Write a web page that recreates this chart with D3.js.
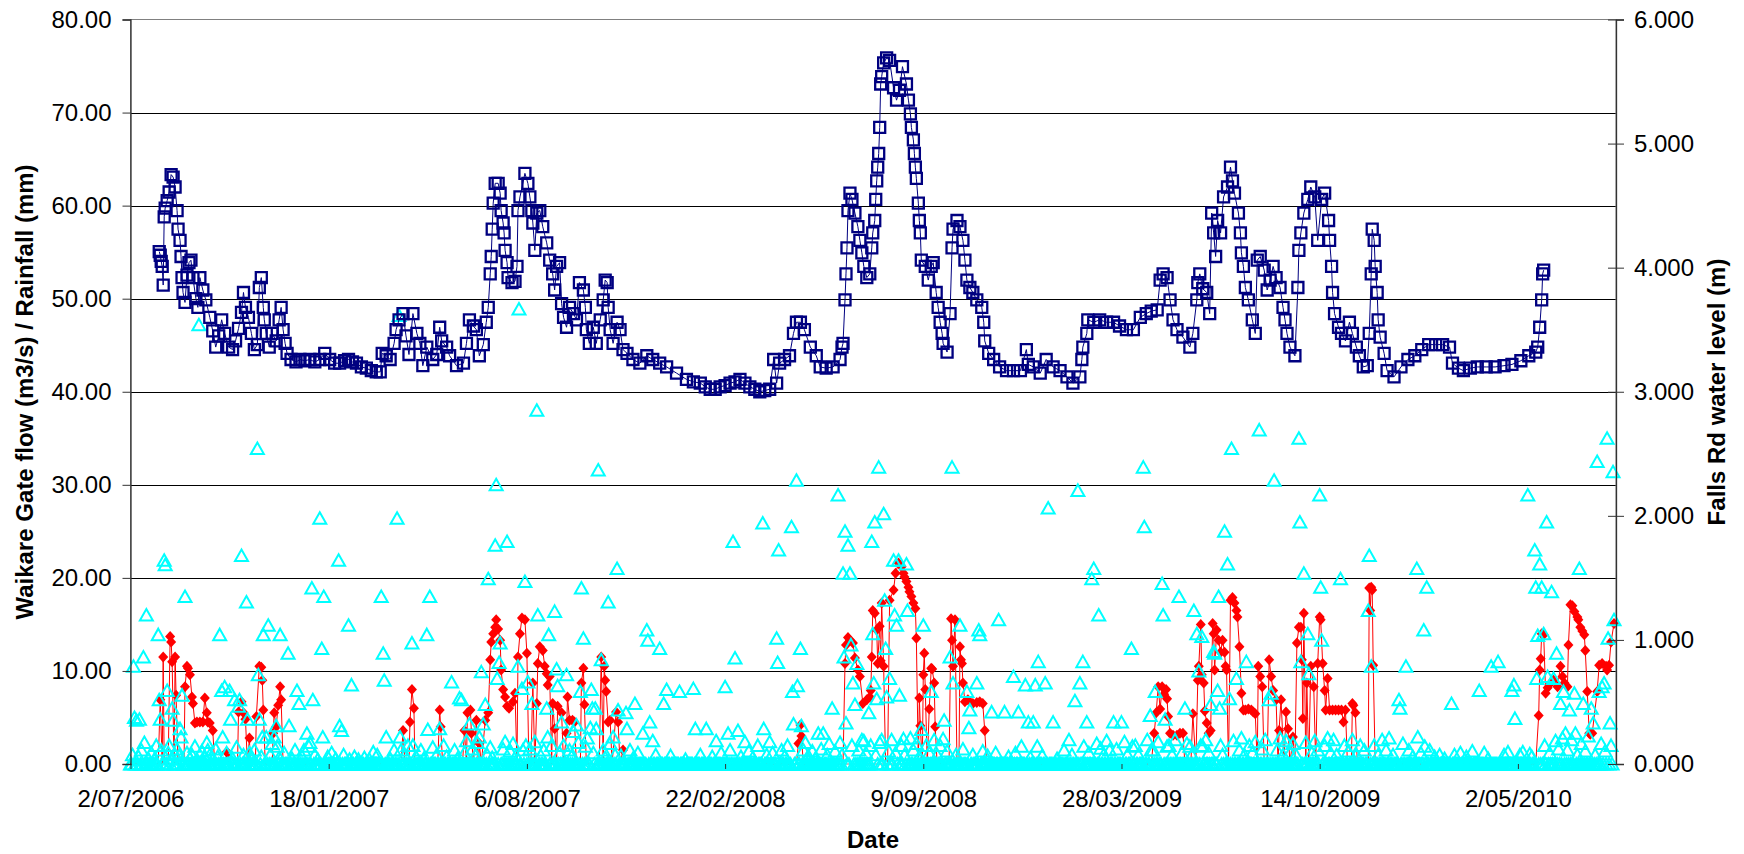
<!DOCTYPE html>
<html lang="en">
<head>
<meta charset="utf-8">
<title>Waikare Gate flow, rainfall and Falls Rd water level</title>
<script src="https://cdn.jsdelivr.net/npm/d3@7"></script>
<style>
  body { margin: 0; background: #fff; }
  text { font-family: "Liberation Sans", Arial, sans-serif; fill: #000; }
</style>
</head>
<body>
<script>
var w = 1744, h = 854;
var plotL = 130.5, plotR = 1616, plotT = 19.5, plotB = 764;

// all series: [days after 2/07/2006, value]
var startDate = "2006-07-02";
var endDate = "2010-08-09";      // right end of the date axis
var lastRecordDay = 1497;        // rainfall record runs from day 0 to here

var xTickLabels = ["2/07/2006", "18/01/2007", "6/08/2007", "22/02/2008",
                   "9/09/2008", "28/03/2009", "14/10/2009", "2/05/2010"];
var leftTicks = [0, 10, 20, 30, 40, 50, 60, 70, 80];
var rightTicks = [0, 1, 2, 3, 4, 5, 6];

// Falls Rd water level (m), right axis
var level = [
  [29,4.13],[30,4.10],[31,4.05],[32,4.01],[33,3.86],[34,4.41],[35,4.48],[37,4.54],[39,4.61],[41,4.75],
  [43,4.73],[45,4.65],[47,4.46],[48,4.31],[50,4.22],[51,4.09],[52,3.92],[53,3.80],[55,3.72],[57,3.94],
  [59,4.04],[61,4.06],[63,3.92],[66,3.75],[68,3.68],[70,3.92],[73,3.82],[76,3.74],[80,3.60],[83,3.49],
  [86,3.36],[89,3.45],[92,3.58],[95,3.47],[99,3.36],[103,3.34],[106,3.41],[109,3.51],[112,3.64],[114,3.80],
  [116,3.68],[119,3.60],[122,3.47],[125,3.34],[128,3.38],[130,3.84],[132,3.92],[134,3.68],[135,3.58],[137,3.47],
  [140,3.36],[143,3.47],[147,3.41],[150,3.58],[152,3.68],[154,3.50],[156,3.39],[158,3.31],[162,3.26],[167,3.24],
  [171,3.26],[176,3.25],[181,3.26],[186,3.24],[191,3.26],[196,3.31],[201,3.26],[206,3.23],[211,3.23],[216,3.25],
  [220,3.26],[224,3.24],[228,3.23],[233,3.20],[238,3.19],[243,3.17],[248,3.16],[252,3.16],[254,3.31],[258,3.29],
  [262,3.26],[266,3.39],[268,3.50],[271,3.58],[275,3.63],[278,3.45],[281,3.30],[285,3.63],[289,3.47],[292,3.39],
  [295,3.21],[299,3.36],[305,3.26],[309,3.30],[312,3.52],[314,3.41],[319,3.36],[322,3.29],[329,3.21],[336,3.23],
  [339,3.39],[342,3.58],[346,3.53],[349,3.50],[352,3.29],[356,3.38],[359,3.56],[361,3.68],[363,3.95],[364,4.09],
  [365,4.31],[366,4.52],[368,4.68],[371,4.68],[373,4.60],[374,4.46],[376,4.36],[377,4.28],[378,4.14],[380,4.04],
  [381,3.92],[385,3.88],[388,3.89],[390,4.01],[391,4.46],[393,4.57],[398,4.76],[401,4.68],[403,4.57],[405,4.46],
  [406,4.36],[408,4.14],[410,4.44],[413,4.46],[416,4.33],[420,4.20],[423,4.06],[426,3.95],[428,3.82],[430,4.01],
  [433,4.04],[435,3.71],[437,3.60],[440,3.52],[443,3.68],[447,3.63],[450,3.58],[453,3.88],[457,3.82],[459,3.68],
  [460,3.50],[463,3.39],[467,3.52],[470,3.39],[474,3.58],[477,3.74],[479,3.90],[481,3.88],[482,3.68],[484,3.50],
  [487,3.39],[491,3.56],[494,3.50],[497,3.34],[501,3.31],[507,3.26],[514,3.23],[521,3.29],[527,3.26],[534,3.23],
  [541,3.20],[551,3.15],[561,3.10],[568,3.08],[575,3.07],[580,3.04],[585,3.02],[590,3.02],[595,3.04],[600,3.05],
  [605,3.07],[610,3.08],[615,3.10],[620,3.07],[625,3.04],[630,3.02],[635,3.00],[640,3.01],[645,3.02],[649,3.26],
  [652,3.07],[655,3.23],[660,3.26],[665,3.29],[669,3.47],[672,3.56],[676,3.56],[680,3.50],[686,3.36],[692,3.29],
  [696,3.20],[702,3.19],[709,3.20],[716,3.26],[718,3.36],[719,3.39],[721,3.74],[722,3.95],[723,4.16],[724,4.46],
  [726,4.60],[728,4.55],[731,4.44],[734,4.33],[736,4.22],[738,4.12],[740,4.01],[743,3.92],[746,3.95],[748,4.16],
  [749,4.28],[751,4.38],[752,4.55],[753,4.70],[754,4.81],[755,4.92],[756,5.13],[757,5.48],[758,5.54],[760,5.65],
  [763,5.69],[766,5.67],[770,5.45],[773,5.35],[776,5.43],[779,5.62],[783,5.48],[785,5.35],[787,5.24],[788,5.13],
  [790,5.03],[791,4.92],[792,4.81],[793,4.72],[795,4.52],[796,4.38],[797,4.28],[798,4.06],[802,4.01],[805,3.90],
  [808,4.01],[810,4.04],[813,3.80],[815,3.68],[817,3.56],[819,3.47],[820,3.39],[824,3.32],[827,3.63],[829,4.16],
  [830,4.31],[834,4.38],[837,4.33],[840,4.22],[842,4.06],[844,3.90],[847,3.84],[850,3.80],[854,3.74],[859,3.68],
  [861,3.56],[862,3.41],[866,3.31],[871,3.26],[877,3.20],[884,3.17],[891,3.17],[898,3.17],[904,3.34],[906,3.22],
  [911,3.20],[918,3.15],[924,3.26],[931,3.20],[938,3.17],[945,3.12],[951,3.07],[958,3.12],[960,3.26],[961,3.36],
  [965,3.47],[966,3.58],[972,3.56],[978,3.58],[985,3.56],[992,3.56],[998,3.53],[1005,3.50],[1012,3.50],[1019,3.60],
  [1025,3.63],[1030,3.65],[1036,3.66],[1039,3.90],[1042,3.95],[1046,3.92],[1049,3.74],[1052,3.58],[1056,3.50],[1062,3.44],
  [1069,3.36],[1072,3.47],[1076,3.74],[1077,3.88],[1079,3.95],[1082,3.83],[1086,3.80],[1089,3.63],[1091,4.44],[1093,4.28],
  [1095,4.09],[1097,4.38],[1100,4.28],[1103,4.57],[1107,4.65],[1110,4.81],[1112,4.70],[1114,4.60],[1118,4.44],[1120,4.28],
  [1121,4.12],[1123,4.01],[1125,3.84],[1128,3.74],[1132,3.58],[1135,3.47],[1137,4.06],[1140,4.09],[1144,3.98],[1147,3.82],
  [1150,3.90],[1153,4.01],[1156,3.92],[1160,3.84],[1163,3.68],[1165,3.58],[1167,3.47],[1170,3.36],[1175,3.29],[1178,3.84],
  [1179,4.14],[1181,4.28],[1184,4.44],[1188,4.55],[1191,4.65],[1195,4.57],[1198,4.22],[1202,4.55],[1205,4.60],[1209,4.38],
  [1210,4.22],[1212,4.01],[1213,3.80],[1215,3.63],[1219,3.52],[1222,3.47],[1226,3.41],[1230,3.56],[1233,3.47],[1237,3.36],
  [1240,3.29],[1244,3.20],[1248,3.21],[1250,3.47],[1252,3.95],[1253,4.31],[1255,4.22],[1256,4.01],[1258,3.80],[1259,3.58],
  [1261,3.44],[1265,3.31],[1268,3.17],[1275,3.12],[1282,3.20],[1289,3.26],[1296,3.29],[1303,3.34],[1310,3.38],[1317,3.38],
  [1324,3.38],[1331,3.36],[1334,3.23],[1340,3.19],[1345,3.17],[1352,3.19],[1359,3.20],[1368,3.20],[1377,3.20],[1386,3.21],
  [1394,3.22],[1403,3.25],[1411,3.29],[1418,3.32],[1420,3.36],[1422,3.52],[1424,3.74],[1425,3.95],[1426,3.98]
];

// Waikare Gate flow (m3/s), left axis; 0 when the gate is shut
var flow = [
  [0,0],[28,0],[30,6.9],[32,0],[33,11.5],[34,0],[38,0],[40,13.7],[41,13.1],[42,11.0],[44,0],[45,11.5],[46,7.4],[48,0],
  [54,0],[55,8.3],[57,10.5],[58,10.3],[60,9.6],[62,7.2],[63,6.5],[65,4.4],[67,4.5],[70,4.5],[73,4.5],[75,7.1],
  [77,5.5],[78,4.5],[80,4.4],[83,3.6],[85,0],[96,0],[97,1.3],[98,1.2],[99,0],[108,0],[109,5.6],[112,6.7],[114,5.5],
  [116,4.8],[118,0],[120,2.8],[121,0],[126,0],[127,5.1],[130,10.5],[132,10.4],[133,9.0],[134,5.8],[136,0],[143,0],
  [144,3.3],[145,5.5],[147,4.0],[149,6.3],[151,8.3],[152,6.9],[154,0],
  [273,0],[275,3.6],[277,0],[281,0],[282,4.5],[284,8.0],[286,6.0],[287,0],[310,0],[312,5.8],[313,4.0],[315,0],
  [335,0],[337,3.6],[339,0],[340,5.5],[343,5.8],[344,3.3],[346,0],[349,4.7],[351,0],[352,2.2],[354,0],[358,4.7],
  [361,5.5],[363,11.2],[364,13.1],[366,14.0],[368,14.7],[369,15.5],[371,14.5],[373,13.3],[374,10.1],[376,8.0],
  [378,7.2],[380,6.2],[382,6.0],[386,6.7],[388,7.6],[390,0],[391,11.5],[393,14.0],[395,15.7],[398,15.5],[400,11.9],
  [402,0],[404,0],[406,8.7],[408,0],[410,6.5],[411,10.8],[413,12.6],[416,12.2],[418,10.5],[420,9.7],[421,8.5],
  [423,9.4],[425,0],[426,6.5],[428,3.8],[430,0],[431,6.2],[435,5.5],[437,0],[440,3.3],[441,7.2],[443,4.7],[446,4.7],
  [448,4.5],[450,0],[454,0],[455,8.7],[457,10.3],[458,6.4],[460,0],[473,0],[475,11.5],[477,0],[478,10.5],[479,9.0],
  [480,7.8],[482,4.5],[484,4.7],[486,0],[490,5.6],[492,4.5],[494,0],[497,1.5],[499,0],
  [672,0],[674,2.2],[676,4.2],[677,3.0],[679,0],
  [719,0],[721,10.8],[722,12.8],[724,13.6],[726,13.3],[729,13.0],[731,11.4],[734,10.1],[736,9.4],[739,6.5],[743,6.9],
  [746,7.2],[747,7.9],[748,11.5],[749,16.5],[751,16.2],[753,14.4],[754,10.8],[756,14.8],[757,11.1],[758,17.3],
  [760,10.5],[762,0],[764,0],[766,17.6],[770,18.7],[772,20.5],[775,21.6],[778,21.2],[780,20.5],[781,20.1],[783,19.6],
  [785,19.0],[786,18.5],[788,18.0],[790,17.3],[792,16.7],[793,13.5],[795,0],[796,7.1],[797,4.1],[799,0],[800,9.6],
  [801,11.9],[802,8.0],[804,0],[806,5.9],[808,10.3],[809,10.2],[811,8.7],[812,4.0],[814,0],[826,0],[828,15.6],
  [829,13.3],[830,10.5],[832,15.5],[834,0],[836,0],[837,12.6],[838,11.2],[839,10.8],[840,8.7],[842,6.7],[845,6.9],
  [850,6.5],[854,6.6],[857,6.7],[860,6.5],[862,3.6],[864,0],
  [1030,0],[1033,3.3],[1035,5.5],[1037,8.3],[1039,5.9],[1041,8.3],[1043,7.5],[1045,8.0],[1046,7.0],[1047,5.1],
  [1049,3.3],[1052,3.1],[1056,3.1],[1059,3.3],[1062,3.3],[1064,0],[1070,0],[1072,5.4],[1075,0],[1077,9.0],[1078,10.5],
  [1080,15.0],[1081,9.6],[1083,8.7],[1084,5.7],[1086,4.4],[1088,3.3],[1090,3.6],[1092,15.1],[1093,14.0],[1094,10.1],
  [1096,14.4],[1098,13.3],[1100,12.0],[1102,13.3],[1104,12.0],[1105,10.5],[1106,10.1],[1108,0],[1110,17.6],[1112,17.9],
  [1114,17.3],[1116,16.5],[1117,15.8],[1119,12.6],[1121,7.6],[1123,5.8],[1125,5.8],[1128,5.9],[1131,5.8],[1133,5.6],
  [1135,5.4],[1137,0],[1138,10.5],[1140,9.4],[1142,8.3],[1144,0],[1147,0],[1149,11.2],[1151,9.4],[1153,7.9],[1156,6.9],
  [1158,0],[1159,3.6],[1161,6.9],[1164,0],[1166,5.6],[1168,3.8],[1170,0],[1173,2.9],[1175,0],[1177,13.0],[1179,14.7],
  [1181,14.7],[1182,11.2],[1183,4.9],[1184,16.2],[1186,0],[1187,8.7],[1189,0],[1191,10.5],[1194,8.3],[1196,0],
  [1198,10.8],[1200,15.8],[1201,15.5],[1203,10.8],[1205,7.9],[1206,5.8],[1208,9.2],[1210,5.8],[1213,5.8],[1216,5.8],
  [1219,5.8],[1222,5.8],[1224,4.5],[1226,5.8],[1228,0],[1232,0],[1233,6.5],[1234,6.3],[1236,5.5],[1238,0],[1249,0],
  [1250,18.9],[1251,16.5],[1252,19.0],[1253,18.7],[1254,10.6],[1256,0],
  [1418,0],[1421,5.2],[1422,10.1],[1423,11.3],[1424,14.0],[1426,13.9],[1428,7.6],[1430,8.2],[1433,8.7],[1436,9.0],
  [1440,8.3],[1443,10.5],[1445,9.4],[1447,8.7],[1450,8.3],[1451,12.8],[1453,17.1],[1455,17.0],[1457,16.4],[1460,15.8],
  [1461,15.5],[1463,14.7],[1465,14.3],[1467,13.9],[1468,12.2],[1470,7.8],[1472,3.3],[1473,3.2],[1475,3.3],[1480,7.8],
  [1482,10.6],[1485,10.8],[1489,10.5],[1490,10.1],[1492,10.6],[1494,13.1],[1497,15.1]
];

// daily rainfall (mm), left axis; days not listed had 0 mm
var rainfall = [
  [3,10.5],[4,5.0],[6,4.7],[9,4.8],[13,11.5],[14,2.3],[16,16.0],[28,13.9],[29,6.9],[30,4.8],[34,21.9],[35,21.4],
  [37,7.9],[39,2.0],[42,6.0],[43,4.7],[45,1.0],[50,3.8],[51,2.9],[52,7.4],[55,18.0],[65,1.9],[69,47.2],[77,2.3],
  [78,1.5],[90,13.9],[92,7.9],[93,2.9],[95,8.3],[100,7.9],[101,4.8],[105,6.9],[109,6.2],[110,6.9],[112,22.4],
  [117,17.4],[118,4.8],[120,1.2],[128,33.9],[129,9.6],[130,4.8],[133,2.9],[134,13.9],[137,2.9],[139,14.9],[145,2.9],
  [147,4.1],[148,1.9],[151,13.9],[159,11.9],[160,4.1],[168,7.9],[170,6.5],[175,1.5],[178,3.3],[180,1.9],[181,2.3],
  [183,18.9],[184,6.9],[191,26.4],[193,12.4],[194,2.9],[195,18.0],[210,21.9],[211,4.1],[213,3.6],[220,14.9],
  [221,0.5],[223,8.5],[245,1.3],[253,18.0],[255,11.9],[256,9.0],[258,2.9],[269,26.4],[271,48.2],[272,2.9],
  [273,1.5],[284,13.0],[285,2.0],[299,13.9],[300,3.7],[302,18.0],[312,3.8],[324,8.8],[332,7.1],[334,6.9],[342,4.3],
  [352,2.9],[354,9.9],[356,4.3],[358,6.4],[361,19.9],[368,23.5],[369,30.0],[370,9.2],[372,10.9],[373,13.0],
  [380,23.9],[391,10.5],[392,48.9],[395,8.1],[398,19.6],[401,8.8],[405,6.5],[410,38.0],[411,16.0],[420,6.0],
  [421,2.9],[422,13.9],[428,16.4],[430,10.2],[431,8.4],[435,4.5],[440,9.6],[447,3.5],[450,4.2],[454,7.8],[455,18.9],
  [457,13.5],[464,3.9],[465,8.0],[466,6.0],[469,6.0],[470,3.8],[472,31.6],[475,11.2],[482,17.4],[487,2.9],
  [491,21.0],[492,5.8],[500,5.5],[501,3.8],[509,6.5],[517,3.3],[521,14.4],[522,13.3],[524,4.5],[534,12.4],
  [538,6.5],[541,8.0],[554,7.8],[568,8.1],[570,3.8],[581,3.8],[591,2.5],[600,8.3],[603,3.3],[608,23.9],[610,11.4],
  [613,3.6],[620,2.4],[638,25.9],[639,3.8],[652,13.5],[653,10.9],[654,23.0],[667,25.5],[668,7.8],[669,4.3],
  [672,30.5],[673,8.4],[676,12.4],[677,4.1],[681,2.3],[694,3.3],
  [699,3.3],[708,6.0],[714,28.9],[716,2.3],[719,20.5],[720,11.5],[721,25.0],[722,4.4],[724,23.5],[726,20.5],
  [727,12.8],[729,8.7],[731,6.4],[733,10.8],[738,2.6],[745,5.5],[748,23.9],[749,14.0],[750,8.7],[751,26.0],
  [753,7.0],[755,31.9],[756,2.3],[760,26.9],[761,17.6],[762,12.4],[763,7.2],[766,9.2],[770,21.9],[771,16.0],
  [773,14.9],[775,21.9],[776,7.4],[780,2.7],[783,21.5],[784,16.5],[798,3.7],[800,14.9],[808,7.8],[820,2.7],
  [821,4.7],[827,11.5],[829,31.9],[830,8.7],[837,14.9],[844,7.8],[846,3.9],[847,5.8],[854,8.7],[856,14.4],
  [857,13.9],[869,5.6],[876,15.5],[882,5.6],[891,9.4],[896,5.6],[899,1.9],[903,8.5],[906,4.5],[911,4.5],[913,8.5],
  [915,1.9],[916,11.0],[923,8.7],[926,27.5],[931,4.5],[953,6.8],[956,29.4],[958,8.7],[961,11.0],[962,1.9],
  [965,4.5],[970,19.9],[972,21.0],[977,16.0],[979,1.7],[992,4.5],[1000,4.5],[1010,12.4],[1011,1.9],[1022,31.9],
  [1023,25.5],[1029,5.2],[1030,1.5],[1034,7.8],[1041,19.4],[1042,16.0],[1044,4.8],[1046,1.9],[1058,18.0],
  [1064,6.0],[1069,1.9],[1073,16.5],[1076,14.0],[1078,10.0],[1081,13.7],[1082,1.9],[1090,6.4],[1093,12.1],
  [1094,11.9],[1097,7.9],[1098,18.0],[1099,6.0],[1104,25.0],[1107,21.5],[1109,7.0],[1111,33.9],[1116,9.2],
  [1126,11.0],[1139,35.9],[1149,6.9],[1151,7.6],[1154,30.5],[1179,35.0],[1180,26.0],[1181,11.0],[1184,20.5],
  [1188,14.0],[1189,9.7],[1200,28.9],[1201,19.0],[1202,13.3],[1221,19.9],[1249,16.5],[1250,22.4],[1252,10.5],
  [1280,6.9],[1281,6.0],[1287,10.5],[1298,21.0],[1299,2.9],[1305,14.4],[1306,1.9],[1308,19.0],[1333,6.5],
  [1361,7.9],[1373,10.5],[1380,11.0],[1394,7.9],[1396,8.5],[1397,4.9],[1410,28.9],[1417,23.0],[1418,19.0],
  [1419,9.2],[1420,13.8],[1422,21.5],[1424,19.0],[1426,14.0],[1429,26.0],[1430,9.4],[1434,18.5],[1436,9.2],
  [1439,11.9],[1443,6.5],[1446,7.8],[1448,3.3],[1452,5.8],[1457,7.6],[1458,3.3],[1462,21.0],[1466,6.5],[1471,3.0],
  [1474,6.0],[1476,4.4],[1480,32.5],[1482,7.8],[1485,8.3],[1487,8.7],[1490,35.0],[1491,13.5],[1493,4.4],
  [1496,31.4],[1497,15.5],
  // light falls
  [2,1.0],[8,0.8],[11,1.5],[18,0.6],[21,1.2],[24,0.5],[26,2.0],[31,1.5],[38,1.2],[41,0.5],[47,1.6],[49,0.9],
  [57,1.2],[60,0.6],[62,1.0],[67,0.5],[72,1.4],[75,0.7],[80,1.0],[83,0.5],[86,1.6],[88,0.8],[97,1.2],[103,0.6],
  [107,1.8],[114,1.0],[122,0.6],[125,1.5],[132,0.8],[141,1.0],[143,2.2],[150,0.7],[155,1.2],[163,0.6],[166,1.5],
  [173,0.8],[186,1.0],[189,0.5],[199,0.8],[203,1.2],[207,0.6],[215,1.0],[226,0.8],[230,0.5],[236,0.7],[241,0.5],
  [249,1.0],[262,0.6],[266,1.5],[277,1.0],[280,2.0],[288,0.8],[293,1.5],[296,0.6],[305,1.8],[309,1.0],[316,2.0],
  [319,0.8],[327,1.5],[330,0.6],[337,1.2],[339,2.5],[345,1.6],[348,0.9],[350,2.3],[360,1.0],[363,1.8],[365,0.7],
  [376,1.6],[378,2.4],[383,1.4],[386,2.2],[389,0.9],[396,1.5],[399,2.0],[403,1.6],[408,2.4],[414,0.9],[417,1.5],
  [425,2.0],[433,1.2],[437,2.0],[443,1.5],[445,0.8],[452,2.3],[459,1.9],[461,2.8],[467,1.2],[477,1.5],[479,0.7],
  [484,2.2],[489,1.0],[495,0.9],[504,1.5],[507,0.6],[512,1.2],[527,2.5],[530,1.0],[545,0.9],[560,0.5],[575,1.0],
  [587,0.8],[596,1.2],[605,1.5],[616,0.8],[624,1.4],[628,0.7],[633,2.0],[642,1.0],[645,2.4],[648,1.2],[657,1.5],
  [660,0.8],[663,2.0],[679,1.5],[684,0.9],[688,1.4],[691,0.6],[697,1.6],[703,1.0],[705,2.2],[711,1.4],[718,1.0],
  [728,2.0],[735,1.5],[740,2.5],[742,1.2],[747,2.0],[752,1.0],[758,2.6],[765,1.4],[768,2.6],[772,1.2],[778,2.0],
  [781,1.0],[787,2.8],[790,1.5],[793,2.2],[796,0.8],[803,2.0],[806,1.2],[811,2.6],[814,1.0],[817,2.0],[824,1.4],
  [833,1.0],[840,1.6],[850,1.0],[860,1.4],[865,0.9],[873,1.2],[886,0.8],[893,1.2],[908,0.7],[920,0.9],[935,0.6],
  [942,1.5],[947,2.6],[950,1.0],[967,1.2],[975,2.2],[982,1.0],[985,2.5],[988,1.5],[995,1.6],[1003,2.4],[1006,1.0],
  [1014,2.0],[1017,1.0],[1026,2.6],[1032,1.5],[1037,2.4],[1048,2.0],[1051,1.0],[1054,2.6],[1061,1.2],[1066,2.2],
  [1071,1.0],[1080,2.0],[1085,2.6],[1088,1.2],[1100,2.0],[1102,1.0],[1113,2.5],[1119,1.5],[1121,2.8],[1124,1.0],
  [1129,2.0],[1132,1.2],[1135,2.4],[1142,1.6],[1145,2.6],[1157,1.5],[1160,2.8],[1163,1.0],[1166,2.5],[1170,1.2],
  [1173,2.2],[1176,1.0],[1186,2.3],[1192,1.2],[1195,2.5],[1198,1.5],[1205,2.0],[1208,2.8],[1211,1.2],[1214,2.6],
  [1217,1.0],[1225,2.0],[1229,1.4],[1233,2.6],[1237,1.0],[1241,2.0],[1245,1.5],[1255,2.0],[1259,1.0],[1263,2.6],
  [1267,1.5],[1270,2.8],[1274,1.0],[1284,2.2],[1290,1.5],[1294,0.8],[1302,1.2],[1311,1.5],[1316,0.8],[1321,1.0],
  [1326,0.6],[1336,1.0],[1342,1.2],[1348,0.8],[1354,1.4],[1366,1.2],[1370,0.6],[1386,1.0],[1390,1.3],[1402,1.0],
  [1405,1.3],[1412,1.1],[1414,0.8],[1427,2.0],[1432,1.2],[1438,2.5],[1441,1.6],[1445,2.8],[1450,1.5],[1454,2.6],
  [1460,1.0],[1464,2.2],[1468,1.4],[1478,1.0],[1484,2.2],[1488,1.4],[1494,2.0]
];

var start = d3.utcParse("%Y-%m-%d")(startDate);
var end = d3.utcParse("%Y-%m-%d")(endDate);
function dayToDate(d) { return d3.utcDay.offset(start, d); }

// dry days of the rainfall record
var wetDays = new Set(rainfall.map(function(d){ return d[0]; }));
var rainAll = d3.range(0, lastRecordDay + 1)
    .filter(function(d){ return !wetDays.has(d); })
    .map(function(d){ return [d, 0]; })
    .concat(rainfall);

var parseTick = function(s) {
    var p = s.split("/");
    return new Date(Date.UTC(+p[2], +p[1] - 1, +p[0]));
};

// scales
var xScale = d3.scaleUtc().domain([start, end]).range([plotL, plotR]);
var yLeft = d3.scaleLinear().domain([0, 80]).range([plotB, plotT]);
var yRight = d3.scaleLinear().domain([0, 6]).range([plotB, plotT]);

var svg = d3.select("body").append("svg")
    .attr("width", w).attr("height", h)
    .style("display", "block");

svg.append("rect").attr("width", w).attr("height", h).attr("fill", "#fff");

// grid lines
svg.append("g").selectAll("line")
    .data(leftTicks.filter(function(v){ return v > 0 && v < 80; }))
    .enter().append("line")
    .attr("x1", plotL).attr("x2", plotR)
    .attr("y1", function(d){ return Math.round(yLeft(d)) + 0.5; })
    .attr("y2", function(d){ return Math.round(yLeft(d)) + 0.5; })
    .attr("stroke", "#000").attr("stroke-width", 1);

// plot border
svg.append("rect")
    .attr("x", plotL).attr("y", plotT)
    .attr("width", plotR - plotL).attr("height", plotB - plotT)
    .attr("fill", "none").attr("stroke", "#808080").attr("stroke-width", 1);

// flow: red diamonds joined by a thin line
var flowLine = d3.line()
    .x(function(d){ return xScale(dayToDate(d[0])); })
    .y(function(d){ return yLeft(d[1]); });

svg.append("path").datum(flow)
    .attr("d", flowLine)
    .attr("fill", "none").attr("stroke", "#ff0000").attr("stroke-width", 1);

svg.append("g").selectAll("path")
    .data(flow.filter(function(d){ return d[1] > 0; }))
    .enter().append("path")
    .attr("d", "M0,-5.5L5,0L0,5.5L-5,0Z")
    .attr("transform", function(d){
        return "translate(" + xScale(dayToDate(d[0])) + "," + yLeft(d[1]) + ")";
    })
    .attr("fill", "#ff0000");

// rainfall: open cyan triangles
svg.append("g").selectAll("path")
    .data(rainAll)
    .enter().append("path")
    .attr("d", "M0,-6L6.5,5.5L-6.5,5.5Z")
    .attr("transform", function(d){
        return "translate(" + xScale(dayToDate(d[0])) + "," + yLeft(d[1]) + ")";
    })
    .attr("fill", "none").attr("stroke", "#00ffff").attr("stroke-width", 2);

// water level: open navy squares joined by a thin line, right axis
var levelLine = d3.line()
    .x(function(d){ return xScale(dayToDate(d[0])); })
    .y(function(d){ return yRight(d[1]); });

svg.append("path").datum(level)
    .attr("d", levelLine)
    .attr("fill", "none").attr("stroke", "#000080").attr("stroke-width", 1);

svg.append("g").selectAll("path")
    .data(level)
    .enter().append("path")
    .attr("d", "M-5.5,-5.5H5.5V5.5H-5.5Z")
    .attr("transform", function(d){
        return "translate(" + xScale(dayToDate(d[0])) + "," + yRight(d[1]) + ")";
    })
    .attr("fill", "none").attr("stroke", "#000080").attr("stroke-width", 2.3);

// axes
var fmtLeft = d3.format(".2f"), fmtRight = d3.format(".3f");

var gL = svg.append("g").attr("transform", "translate(" + plotL + ",0)")
    .call(d3.axisLeft(yLeft).tickValues(leftTicks).tickFormat(fmtLeft)
          .tickSize(8).tickPadding(11));

var gR = svg.append("g").attr("transform", "translate(" + plotR + ",0)")
    .call(d3.axisRight(yRight).tickValues(rightTicks).tickFormat(fmtRight)
          .tickSize(8).tickPadding(10));
gR.selectAll(".tick line").attr("x1", -8);

var gX = svg.append("g").attr("transform", "translate(0," + plotB + ")")
    .call(d3.axisBottom(xScale).tickValues(xTickLabels.map(parseTick))
          .tickFormat(d3.utcFormat("%-d/%m/%Y")).tickSize(5).tickPadding(21));

[gL, gR, gX].forEach(function(g){
    g.select(".domain").attr("stroke", "#333").attr("stroke-width", 1.3);
    g.selectAll(".tick line").attr("stroke", "#333");
    g.selectAll("text").attr("font-size", "24px")
        .attr("font-family", "'Liberation Sans', Arial, sans-serif").attr("fill", "#000");
});
gX.select(".domain").remove();

// axis titles
svg.append("text")
    .attr("transform", "translate(33,392) rotate(-90)")
    .attr("text-anchor", "middle")
    .attr("font-size", "24px").attr("font-weight", "bold")
    .text("Waikare Gate flow (m3/s) / Rainfall (mm)");

svg.append("text")
    .attr("transform", "translate(1725,392) rotate(-90)")
    .attr("text-anchor", "middle")
    .attr("font-size", "24px").attr("font-weight", "bold")
    .text("Falls Rd water level (m)");

svg.append("text")
    .attr("x", 873).attr("y", 848)
    .attr("text-anchor", "middle")
    .attr("font-size", "24px").attr("font-weight", "bold")
    .text("Date");
</script>
</body>
</html>
